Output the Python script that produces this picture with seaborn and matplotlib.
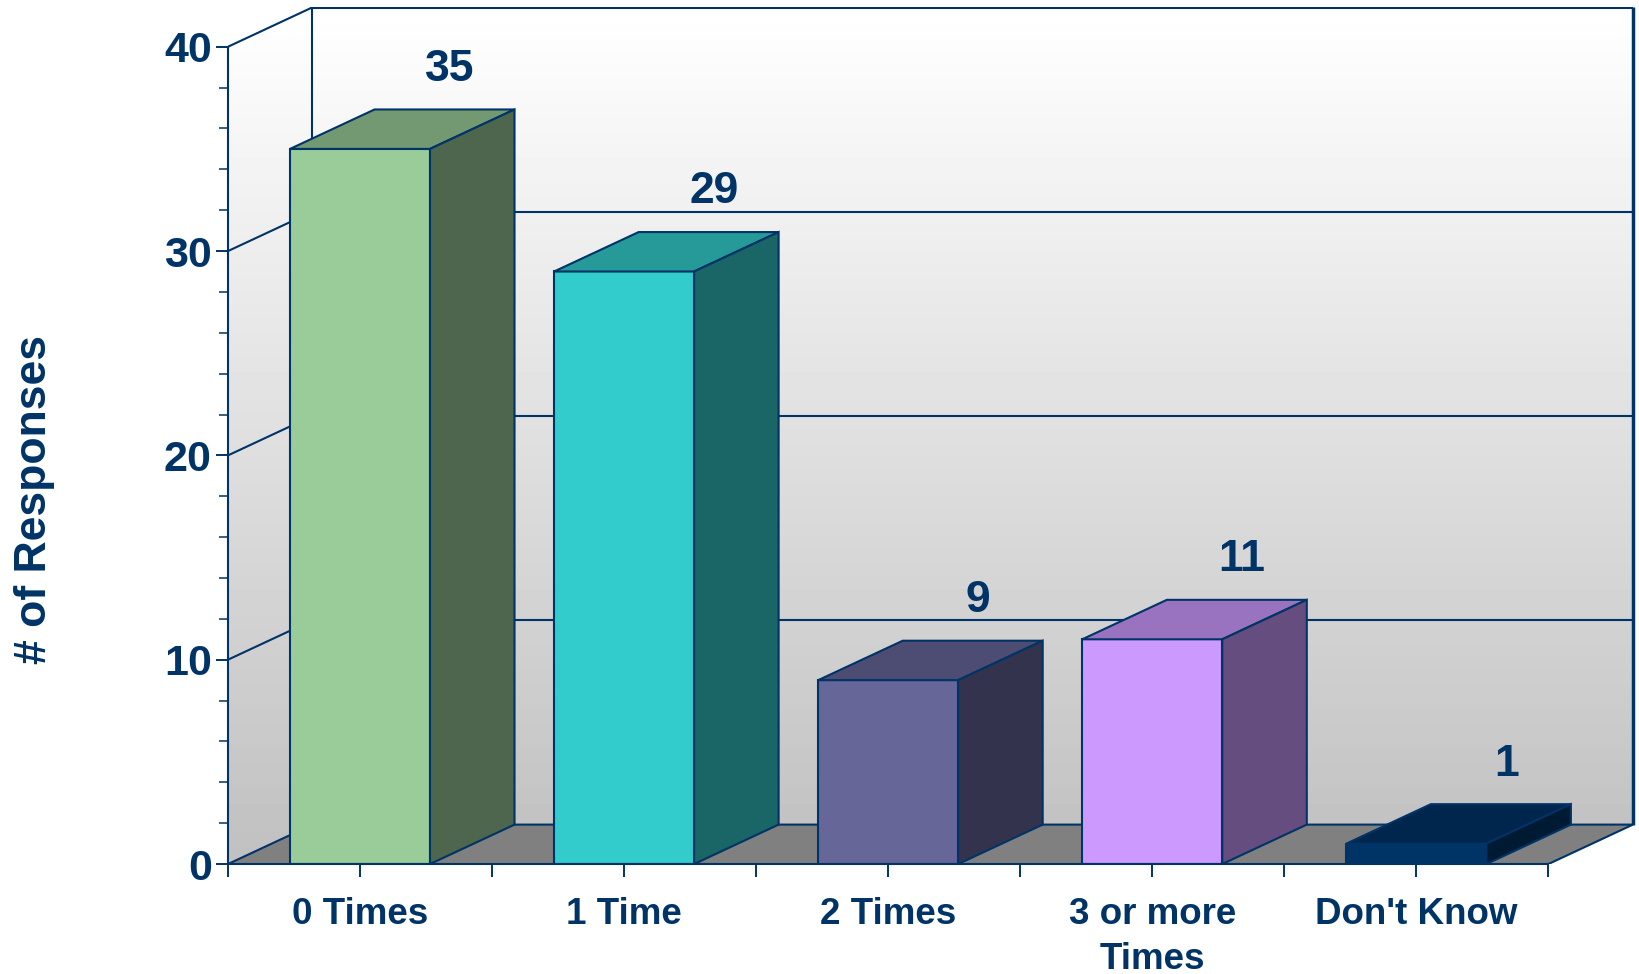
import numpy as np
import matplotlib
matplotlib.use("Agg")
import matplotlib.pyplot as plt
from matplotlib.patches import Polygon
from matplotlib.colors import to_rgb
import seaborn as sns

# -------------------------------------------------
# Data
# -------------------------------------------------
categories = ["0 Times", "1 Time", "2 Times", "3 or more\nTimes", "Don't Know"]
responses = [35, 29, 9, 11, 1]
bar_colors = ["#99CC99", "#33CCCC", "#666699", "#CC99FF", "#003366"]

NAVY = "#003366"
DX, DY = 0.32, 1.93      # fake 3D depth (x in categories, y in responses)
YMAX = 40

sns.set_style("white")
plt.rcParams["font.family"] = ["Liberation Sans", "DejaVu Sans"]
plt.rcParams["font.weight"] = "bold"

fig = plt.figure(figsize=(16.39, 9.74), dpi=100)
ax = fig.add_axes([0.1391, 0.1129, 0.8572, 0.8796])

sns.barplot(x=categories, y=responses, hue=categories, palette=bar_colors,
            legend=False, width=0.53, edgecolor=NAVY, linewidth=1.5,
            saturation=1, ax=ax)
bars = list(ax.patches)

x_lo, x_hi = -0.5, len(categories) - 0.5
ax.set_xlim(x_lo, x_hi + DX)
ax.set_ylim(0, YMAX + DY)

# -------------------------------------------------
# Walls + floor
# -------------------------------------------------
wall = Polygon([(x_lo, 0), (x_lo, YMAX), (x_lo + DX, YMAX + DY),
                (x_hi + DX, YMAX + DY), (x_hi + DX, DY), (x_lo + DX, DY)],
               closed=True, facecolor="none", edgecolor="none")
ax.add_patch(wall)
grad = np.linspace(1.0, 0.753, 256).reshape(-1, 1)
img = ax.imshow(grad, cmap="gray", vmin=0, vmax=1, aspect="auto",
                extent=[x_lo, x_hi + DX, 0, YMAX + DY], origin="upper", zorder=0.2)
img.set_clip_path(wall)

floor = Polygon([(x_lo, 0), (x_hi, 0), (x_hi + DX, DY), (x_lo + DX, DY)],
                closed=True, facecolor="#808080", edgecolor=NAVY, linewidth=1.5, zorder=0.5)
ax.add_patch(floor)

lw = dict(color=NAVY, linewidth=1.5, solid_capstyle="butt")
for v in [10, 20, 30, 40]:
    ax.plot([x_lo, x_lo + DX], [v, v + DY], zorder=0.6, **lw)
    ax.plot([x_lo + DX, x_hi + DX], [v + DY, v + DY], zorder=0.6,
            **dict(lw, linewidth=2.2 if v == 40 else 1.5))
ax.plot([x_lo + DX, x_lo + DX], [DY, YMAX + DY], zorder=0.6, **lw)
ax.plot([x_hi + DX, x_hi + DX], [DY, YMAX + DY], zorder=0.6, clip_on=False,
        **dict(lw, linewidth=2.5))

# -------------------------------------------------
# 3D faces of the bars
# -------------------------------------------------
for p, c in zip(bars, bar_colors):
    p.set_zorder(3)
    x0, w, h = p.get_x(), p.get_width(), p.get_height()
    rgb = np.array(to_rgb(c))
    top = Polygon([(x0, h), (x0 + DX, h + DY), (x0 + w + DX, h + DY), (x0 + w, h)],
                  closed=True, facecolor=rgb * 0.75, edgecolor=NAVY, linewidth=1.5, zorder=3)
    side = Polygon([(x0 + w, 0), (x0 + w + DX, DY), (x0 + w + DX, h + DY), (x0 + w, h)],
                   closed=True, facecolor=rgb * 0.5, edgecolor=NAVY, linewidth=1.5, zorder=3)
    ax.add_patch(top)
    ax.add_patch(side)
    ax.text(x0 + w / 2 + DX + 0.02, h + DY + 1.4, str(int(h)), ha="center", va="baseline",
            fontsize=32, fontweight="bold", color=NAVY, zorder=4)

# -------------------------------------------------
# Axes styling
# -------------------------------------------------
for s in ["top", "right"]:
    ax.spines[s].set_visible(False)
for s in ["left", "bottom"]:
    ax.spines[s].set_color(NAVY)
    ax.spines[s].set_linewidth(1.5)
    ax.spines[s].set_zorder(5)
ax.spines["left"].set_bounds(0, YMAX)
ax.spines["bottom"].set_bounds(x_lo, x_hi)

ax.set_yticks(np.arange(0, YMAX + 1, 10))
ax.set_yticks(np.arange(0, YMAX + 1, 2), minor=True)
ax.set_xticks(np.arange(x_lo, x_hi + 0.1, 1), minor=True)
ax.tick_params(axis="y", which="major", direction="out", length=8.6, width=1.4,
               color=NAVY, labelcolor=NAVY, labelsize=31, pad=3, left=True)
ax.tick_params(axis="y", which="minor", direction="out", length=6.5, width=1.1,
               color=NAVY, left=True)
ax.tick_params(axis="x", which="both", direction="out", length=9.4, width=1.4,
               color=NAVY, labelcolor=NAVY, labelsize=26.5, pad=14, bottom=True)
for t in ax.get_xticklabels():
    t.set_fontweight("bold")
    t.set_linespacing(1.38)
for t in ax.get_yticklabels():
    t.set_fontweight("bold")

ax.set_xlabel("")
ax.set_ylabel("# of Responses", fontsize=32, fontweight="bold", color=NAVY, va="center")
ax.yaxis.set_label_coords(-0.1374, 0.426)
ax.grid(False)

fig.savefig("out.png", dpi=100, facecolor="white")
